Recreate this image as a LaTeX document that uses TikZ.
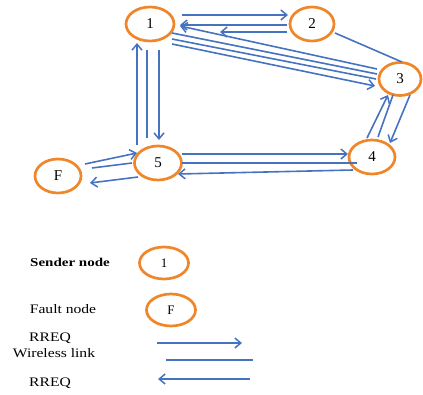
\documentclass[tikz,border=0pt]{standalone}
\usepackage{fontspec}
\setmainfont{Liberation Serif}
\usetikzlibrary{shapes.geometric,arrows.meta,calc}
\definecolor{lnkblue}{HTML}{4673C0}
\definecolor{nodeorange}{HTML}{F0862A}
\tikzset{
  netnode/.style={draw=nodeorange, line width=2.7pt, ellipse, minimum width=46pt, minimum height=34pt, inner sep=0pt, font=\fontsize{15}{15}\selectfont},
  link/.style={draw=lnkblue, line width=1.6pt},
  arr/.style={link, -{Straight Barb[length=6pt,width=10pt,line width=1.5pt]}},
  legtext/.style={font=\fontsize{13}{13}\selectfont, inner sep=0pt}
}
\begin{document}
\begin{tikzpicture}[x=1pt,y=-1pt]
\useasboundingbox (0,0) rectangle (423,394);
% nodes
\node[netnode, minimum width=48pt] (n1) at (150,24) {1};
\node[netnode, minimum width=44pt] (n2) at (312,24) {2};
\node[netnode, minimum width=42pt, minimum height=33pt] (n3) at (400,79) {3};
\node[netnode] (n4) at (372,157) {4};
\node[netnode, minimum width=47pt] (n5) at (158,163) {5};
\node[netnode] (nF) at (58,176) {F};
% 1 - 2
\draw[arr] ($(n1)+(32,-9)$) -- ($(n2)+(-24,-9)$);
\draw[arr] ($(n2)+(-25,1)$) -- ($(n1)+(30,1)$);
\draw[arr] ($(n2)+(-25,8)$) -- ($(n1)+(70,8)$);
% 2 - 3
\draw[link] ($(n2)+(23,9)$) -- ($(n3)+(2,-17)$);
% 1 - 3
\draw[arr] ($(n3)+(-23,-10)$) -- ($(n1)+(30,2)$);
\draw[link] ($(n3)+(-23,-5)$) -- ($(n1)+(22,9)$);
\draw[link] ($(n3)+(-24,0)$) -- ($(n1)+(22,15)$);
\draw[arr] ($(n1)+(22,20)$) -- ($(n3)+(-25,7)$);
% 3 - 4
\draw[arr] ($(n4)+(-5,-19)$) -- ($(n3)+(-12,16)$);
\draw[link] ($(n4)+(6,-20)$) -- ($(n3)+(-7,16)$);
\draw[arr] ($(n3)+(10,16)$) -- ($(n4)+(18,-14)$);
% 1 - 5
\draw[arr] ($(n1)+(9,26)$) -- ($(n5)+(1,-23)$);
\draw[link] ($(n1)+(-3,26)$) -- ($(n5)+(-11,-25)$);
\draw[arr] ($(n5)+(-21,-18)$) -- ($(n1)+(-13,19)$);
% 5 - 4
\draw[arr] ($(n5)+(24,-9)$) -- ($(n4)+(-24,-3)$);
\draw[link] ($(n5)+(24,0)$) -- ($(n4)+(-15,6)$);
\draw[arr] ($(n4)+(-19,13)$) -- ($(n5)+(20,11)$);
% F - 5
\draw[arr] ($(nF)+(27,-12)$) -- ($(n5)+(-21,-10)$);
\draw[link] ($(nF)+(34,-8)$) -- ($(n5)+(-26,0)$);
\draw[arr] ($(n5)+(-20,14)$) -- ($(nF)+(32,7)$);
% legend
\node[legtext, font=\fontsize{12}{12}\selectfont\bfseries] (tsender) at (70,262) {\scalebox{1.25}[1]{Sender node}};
\node[netnode, minimum width=49pt, minimum height=32pt, font=\fontsize{13}{13}\selectfont] (lg1) at (164,263) {1};
\node[legtext] (tfault) at (63,309) {\scalebox{1.2}[1]{Fault node}};
\node[netnode, minimum width=49pt, minimum height=32pt, font=\fontsize{13}{13}\selectfont] (lgF) at (171,310) {F};
\node[legtext] (trreq1) at (50,338) {\scalebox{1.2}[1]{RREQ}};
\node[legtext] (twl) at (54,353) {\scalebox{1.2}[1]{Wireless link}};
\node[legtext] (trreq2) at (50,383) {\scalebox{1.2}[1]{RREQ}};
\coordinate (a1s) at (157,343);
\coordinate (a1e) at (242,343);
\coordinate (l1s) at (166,360);
\coordinate (l1e) at (253,360);
\coordinate (a2s) at (250,379);
\coordinate (a2e) at (158,379);
\draw[arr] (a1s) -- (a1e);
\draw[link] (l1s) -- (l1e);
\draw[arr] (a2s) -- (a2e);
\end{tikzpicture}
\end{document}
